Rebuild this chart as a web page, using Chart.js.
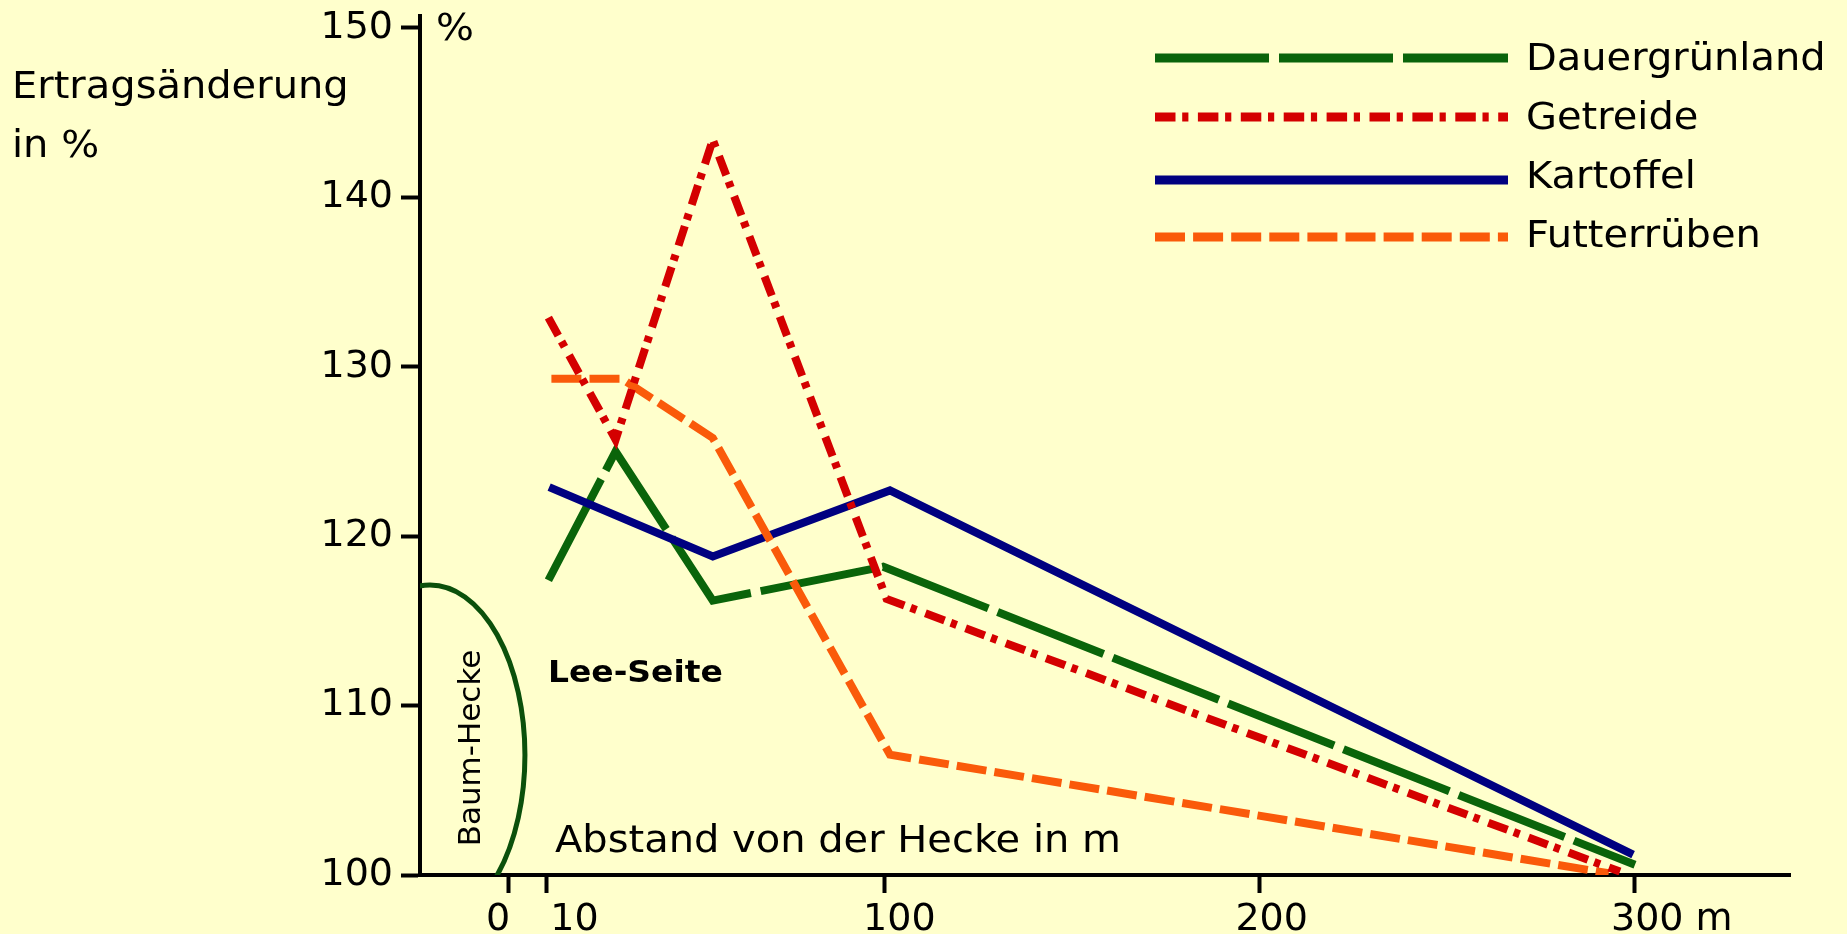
<!DOCTYPE html>
<html><head><meta charset="utf-8">
<script src="https://cdn.jsdelivr.net/npm/chart.js@4.4.1/dist/chart.umd.min.js"></script>
<style>html,body{margin:0;padding:0;background:#ffffcc;overflow:hidden}#wrap{width:1847px;height:934px}</style>
</head><body><div id="wrap"><canvas id="c" width="1847" height="934"></canvas></div>
<script>
// ---- data ----
const seriesNames = ['Dauergrünland', 'Getreide', 'Kartoffel', 'Futterrüben'];
const dauerX = [10.5, 28.4, 54.3, 99.7, 300];
const dauerY = [117.4, 125.0, 116.2, 118.2, 100.6];
const getreideX = [10.5, 28.4, 54.3, 100.6, 296];
const getreideY = [132.9, 125.7, 143.4, 116.3, 100.2];
const kartoffelX = [10.7, 54.3, 101.5, 299.5];
const kartoffelY = [122.9, 118.8, 122.7, 101.2];
const futterX = [11.3, 30, 54.3, 101.5, 293];
const futterY = [129.3, 129.3, 125.8, 107.1, 100.1];
const xTickValues = [0, 10, 100, 200, 300];
const xTickLabels = ['0', '10', '100', '200', '300 m'];
const yTickValues = [100, 110, 120, 130, 140, 150];
const yTitleLines = ['Ertragsänderung', 'in %'];
const xTitle = 'Abstand von der Hecke in m';
const sideLabel = 'Lee-Seite';
const hedgeLabel = 'Baum-Hecke';

const FONT = "'DejaVu Sans', 'Bitstream Vera Sans', sans-serif";
const SX = 1.08;

function pts(xs, ys) { return xs.map((x, i) => ({ x: x, y: ys[i] })); }

function txt(ctx, s, x, y, font, align) {
  ctx.save();
  ctx.font = font;
  ctx.fillStyle = '#000';
  ctx.textBaseline = 'alphabetic';
  ctx.translate(x, y);
  ctx.scale(SX, 1);
  ctx.textAlign = align || 'left';
  ctx.fillText(s, 0, 0);
  ctx.restore();
}

const bgPlugin = {
  id: 'bg',
  beforeDraw(chart) {
    const c = chart.ctx;
    c.save();
    c.fillStyle = '#ffffcc';
    c.fillRect(0, 0, chart.width, chart.height);
    c.restore();
  }
};

const decoPlugin = {
  id: 'deco',
  beforeDatasetsDraw(chart) {
    const { ctx, chartArea: a, scales: { x, y } } = chart;
    // hedge outline
    const cx = x.getPixelForValue(-21.05), cy = y.getPixelForValue(107.08);
    const rx = x.getPixelForValue(-21.05 + 25.3) - cx;
    const ry = cy - y.getPixelForValue(107.08 + 10.04);
    ctx.save();
    ctx.beginPath();
    ctx.rect(a.left, a.top, a.right - a.left, a.bottom - a.top);
    ctx.clip();
    ctx.beginPath();
    ctx.ellipse(cx, cy, rx, ry, 0, 0, Math.PI * 2);
    ctx.lineWidth = 5;
    ctx.strokeStyle = '#0b500b';
    ctx.stroke();
    ctx.restore();
    // hedge label
    ctx.save();
    ctx.translate(480, 748);
    ctx.rotate(-Math.PI / 2);
    ctx.font = '31px ' + FONT;
    ctx.fillStyle = '#000';
    ctx.textAlign = 'center';
    ctx.textBaseline = 'alphabetic';
    ctx.fillText(hedgeLabel, 0, 0);
    ctx.restore();
  },
  afterDraw(chart) {
    const { ctx, scales: { x } } = chart;
    const f37 = '37px ' + FONT;
    txt(ctx, yTitleLines[0], 12, 98, f37);
    txt(ctx, yTitleLines[1], 12, 157, f37);
    txt(ctx, '%', 436, 40, f37);
    txt(ctx, sideLabel, 548, 682, 'bold 30.5px ' + FONT);
    txt(ctx, xTitle, 555, 852, f37);
    // x tick labels
    const off = [-11, 28, 15, 12, -24];
    xTickValues.forEach((v, i) => {
      const px = x.getPixelForValue(v) + off[i];
      ctx.save();
      ctx.font = '38px ' + FONT;
      ctx.fillStyle = '#000';
      ctx.textAlign = i === 4 ? 'left' : 'center';
      ctx.fillText(xTickLabels[i], px, 930);
      ctx.restore();
    });
    // legend
    const lineY = [58, 117, 180, 237];
    const baseY = [70, 129, 188, 247];
    chart.data.datasets.forEach((ds, i) => {
      ctx.save();
      ctx.strokeStyle = ds.borderColor;
      ctx.lineWidth = 9;
      ctx.lineCap = 'butt';
      ctx.setLineDash(ds.borderDash || []);
      ctx.beginPath();
      ctx.moveTo(1155, lineY[i]);
      ctx.lineTo(1508, lineY[i]);
      ctx.stroke();
      ctx.restore();
      txt(ctx, ds.label, 1526, baseY[i], f37);
    });
  }
};

const common = { borderWidth: 8, pointRadius: 0, fill: false, tension: 0, borderCapStyle: 'butt', borderJoinStyle: 'miter' };

new Chart(document.getElementById('c'), {
  type: 'line',
  data: {
    datasets: [
      Object.assign({ label: seriesNames[0], data: pts(dauerX, dauerY), borderColor: '#0a640a', borderDash: [114, 10], order: 3 }, common),
      Object.assign({ label: seriesNames[1], data: pts(getreideX, getreideY), borderColor: '#d40000', borderDash: [20.5, 6.7, 6.2, 9.5], order: 0 }, common),
      Object.assign({ label: seriesNames[2], data: pts(kartoffelX, kartoffelY), borderColor: '#000080', borderDash: [], order: 2 }, common),
      Object.assign({ label: seriesNames[3], data: pts(futterX, futterY), borderColor: '#fa5a0a', borderDash: [30, 8.1], order: 1 }, common)
    ]
  },
  options: {
    responsive: false,
    animation: false,
    devicePixelRatio: 1,
    layout: { padding: { left: 324, right: 57, top: 16, bottom: 41 } },
    plugins: { legend: { display: false }, tooltip: { enabled: false } },
    scales: {
      x: {
        type: 'linear', min: -23.71, max: 341.3,
        afterBuildTicks(s) { s.ticks = xTickValues.map(v => ({ value: v })); },
        ticks: { display: false },
        grid: { drawOnChartArea: false, drawTicks: true, tickLength: 18, tickWidth: 4, tickColor: '#000' },
        border: { display: true, color: '#000', width: 4 },
        afterFit(s) { s.height = 18; s.paddingLeft = 0; s.paddingRight = 0; }
      },
      y: {
        type: 'linear', min: 100, max: 150.708,
        afterBuildTicks(s) { s.ticks = yTickValues.map(v => ({ value: v })); },
        ticks: { display: true, color: '#000', padding: 8, font: { size: 38, family: FONT }, callback: v => String(v) },
        grid: { drawOnChartArea: false, drawTicks: true, tickLength: 19, tickWidth: 4, tickColor: '#000' },
        border: { display: true, color: '#000', width: 4 },
        afterFit(s) { s.width = 96; s.paddingTop = 0; s.paddingBottom = 0; }
      }
    }
  },
  plugins: [bgPlugin, decoPlugin]
});
</script>
</body></html>
